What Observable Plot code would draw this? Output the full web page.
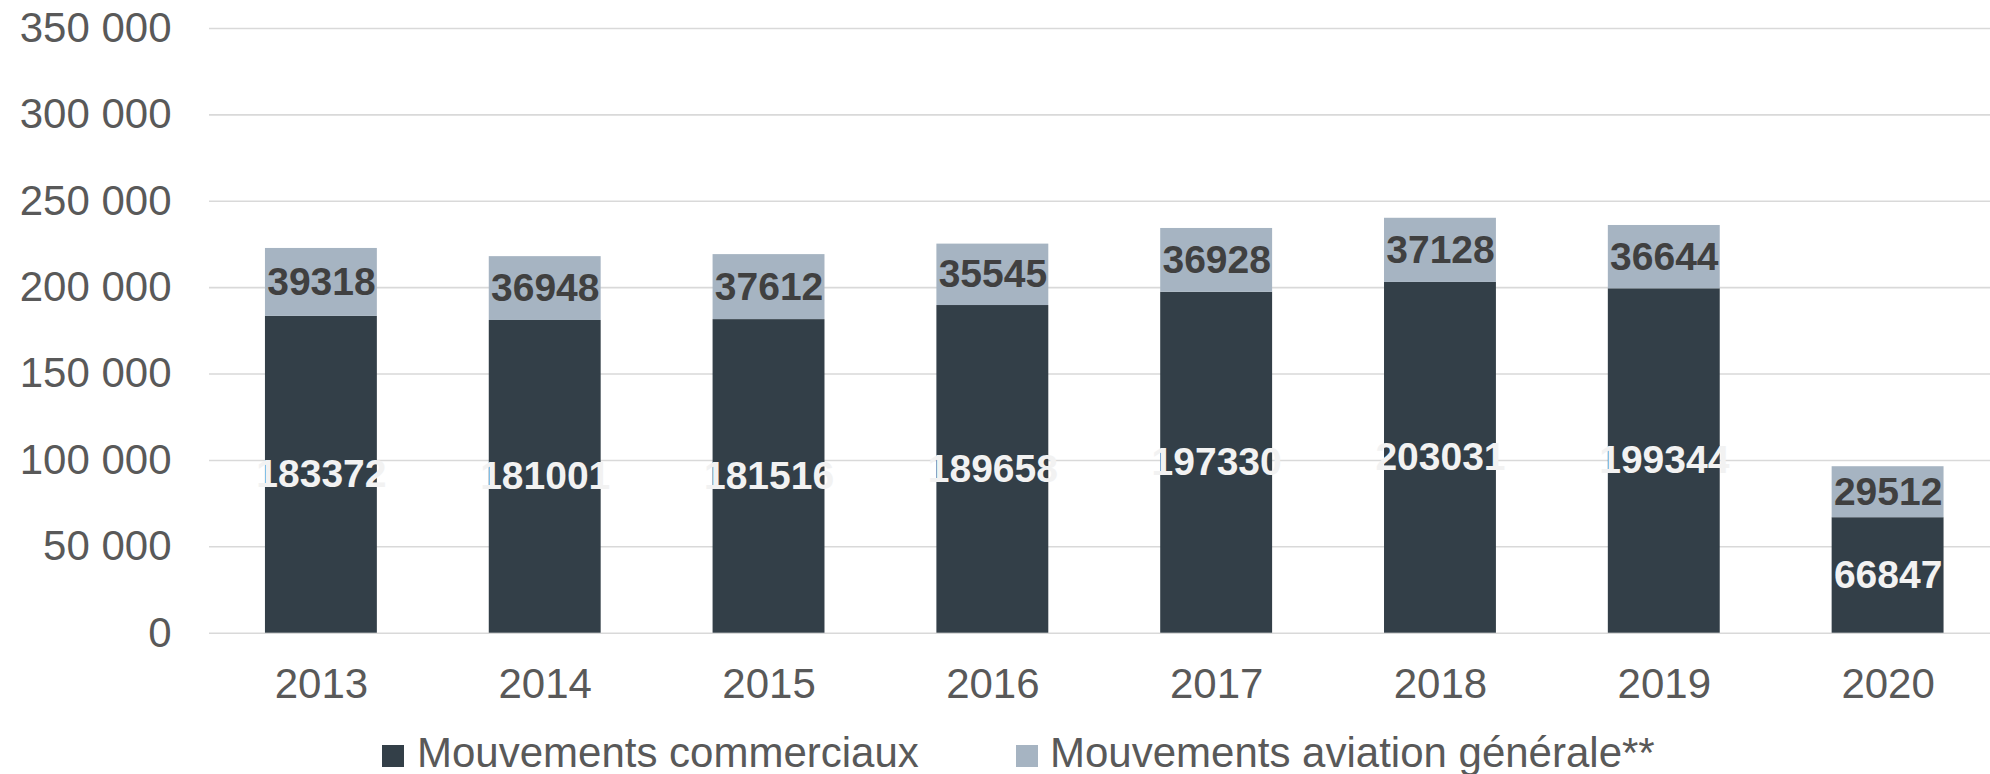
<!DOCTYPE html>
<html>
<head>
<meta charset="utf-8">
<script src="https://cdn.jsdelivr.net/npm/d3@7"></script>
<script src="https://cdn.jsdelivr.net/npm/@observablehq/plot@0.6"></script>
<style>
  html, body { margin: 0; padding: 0; background: #fff; }
  body { width: 1990px; height: 774px; overflow: hidden; font-family: "Liberation Sans", Arial, sans-serif; }
  #legend { position: relative; height: 59px; width: 1990px; color: #595959; font-size: 42px; }
  #legend .sw { position: absolute; top: 30px; width: 22px; height: 22px; }
  #legend .lb { position: absolute; top: 17px; line-height: 42px; white-space: nowrap; }
</style>
</head>
<body>
<div id="chart"></div>
<div id="legend"></div>
<script>
const years = ["2013", "2014", "2015", "2016", "2017", "2018", "2019", "2020"];
const commercial = [183372, 181001, 181516, 189658, 197330, 203031, 199344, 66847];
const general = [39318, 36948, 37612, 35545, 36928, 37128, 36644, 29512];
const seriesNames = ["Mouvements commerciaux", "Mouvements aviation générale**"];
const seriesColors = ["#333f48", "#a6b4c2"];
const yTicks = [0, 50000, 100000, 150000, 200000, 250000, 300000, 350000];

const rows = [];
years.forEach((year, i) => {
  rows.push({year, series: seriesNames[0], value: commercial[i], y1: 0, y2: commercial[i]});
  rows.push({year, series: seriesNames[1], value: general[i], y1: commercial[i], y2: commercial[i] + general[i]});
});

const fmt = d => d3.format(",")(d).replace(/,/g, " ");
const font = '"Liberation Sans", Arial, sans-serif';

const chart = Plot.plot({
  width: 1990,
  height: 715,
  marginLeft: 209,
  marginRight: 0,
  marginTop: 28,
  marginBottom: 82.3,
  style: {fontFamily: font, background: "white", overflow: "visible"},
  x: {domain: years, range: [209, 1999.5], paddingInner: 0.5, paddingOuter: 0.25, round: false, label: null},
  y: {domain: [0, 350000], label: null},
  color: {domain: seriesNames, range: seriesColors},
  marks: [
    Plot.ruleY(yTicks, {stroke: "#d9d9d9", strokeWidth: 1.6}),
    Plot.barY(rows, {x: "year", y1: "y1", y2: "y2", fill: "series"}),
    Plot.text(rows.filter(d => d.series === seriesNames[0]), {
      x: "year", y: d => (d.y1 + d.y2) / 2, text: d => String(d.value),
      fill: "#f2f2f2", fontSize: 39, fontWeight: "bold", fontFamily: font
    }),
    Plot.text(rows.filter(d => d.series === seriesNames[1]), {
      x: "year", y: d => (d.y1 + d.y2) / 2, text: d => String(d.value),
      fill: "#404040", fontSize: 39, fontWeight: "bold", fontFamily: font
    }),
    Plot.axisY({ticks: yTicks, tickSize: 0, tickPadding: 38, tickFormat: fmt, fontSize: 42, fill: "#595959", label: null}),
    Plot.axisX({tickSize: 0, tickPadding: 35, fontSize: 42, fill: "#595959", label: null})
  ]
});
document.getElementById("chart").appendChild(chart);

const legend = document.getElementById("legend");
const legendPos = [[382, 417], [1016, 1050]];
seriesNames.forEach((name, i) => {
  const sw = document.createElement("div");
  sw.className = "sw";
  sw.style.left = legendPos[i][0] + "px";
  sw.style.background = seriesColors[i];
  legend.appendChild(sw);
  const lb = document.createElement("div");
  lb.className = "lb";
  lb.style.left = legendPos[i][1] + "px";
  lb.textContent = name;
  legend.appendChild(lb);
});
</script>
</body>
</html>
